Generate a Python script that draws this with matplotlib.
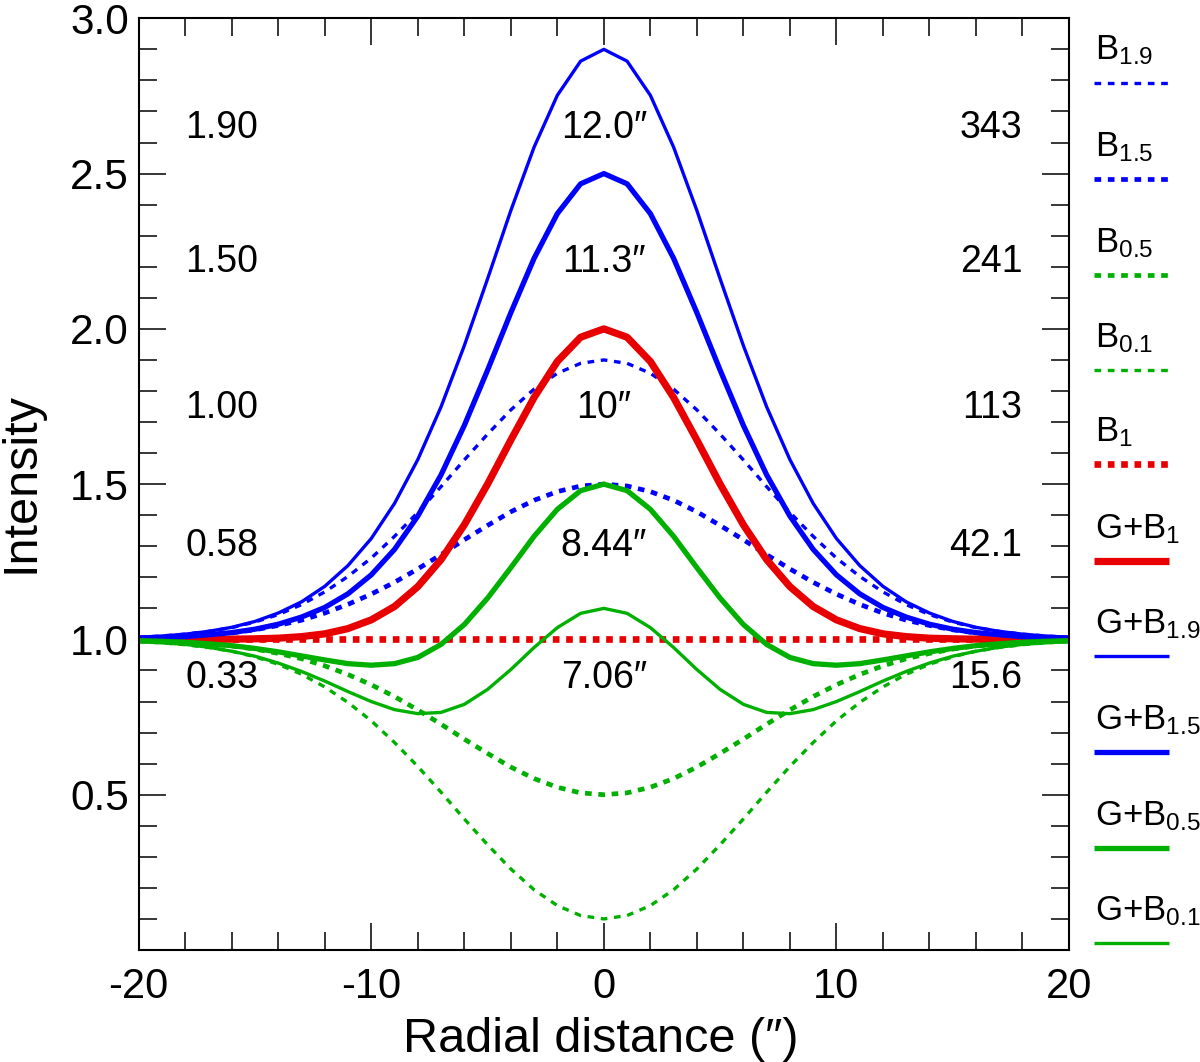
import matplotlib
matplotlib.use("Agg")
import matplotlib.pyplot as plt
from matplotlib.ticker import MultipleLocator, FixedLocator

plt.rcParams['font.family'] = ['Liberation Sans', 'DejaVu Sans']
plt.rcParams['mathtext.fontset'] = 'custom'
plt.rcParams['mathtext.rm'] = 'Liberation Sans'
plt.rcParams['mathtext.default'] = 'regular'
plt.rcParams['axes.unicode_minus'] = False
plt.rcParams['lines.scale_dashes'] = False

# ---------------- data ----------------
x = list(range(-20, 21))

B19 = [1.007, 1.011, 1.017, 1.026, 1.038, 1.056, 1.080, 1.112, 1.153, 1.203, 1.262, 1.332, 1.409, 1.492,
       1.578, 1.661, 1.739, 1.806, 1.857, 1.889, 1.900, 1.889, 1.857, 1.806, 1.739, 1.661, 1.578, 1.492,
       1.409, 1.332, 1.262, 1.203, 1.153, 1.112, 1.080, 1.056, 1.038, 1.026, 1.017, 1.011, 1.007]
B15 = [1.004, 1.006, 1.009, 1.014, 1.021, 1.031, 1.045, 1.062, 1.085, 1.113, 1.146, 1.184, 1.227, 1.273,
       1.321, 1.367, 1.411, 1.448, 1.476, 1.494, 1.500, 1.494, 1.476, 1.448, 1.411, 1.367, 1.321, 1.273,
       1.227, 1.184, 1.146, 1.113, 1.085, 1.062, 1.045, 1.031, 1.021, 1.014, 1.009, 1.006, 1.004]
B05 = [0.996, 0.994, 0.991, 0.986, 0.979, 0.969, 0.955, 0.938, 0.915, 0.887, 0.854, 0.816, 0.773, 0.727,
       0.679, 0.633, 0.589, 0.552, 0.524, 0.506, 0.500, 0.506, 0.524, 0.552, 0.589, 0.633, 0.679, 0.727,
       0.773, 0.816, 0.854, 0.887, 0.915, 0.938, 0.955, 0.969, 0.979, 0.986, 0.991, 0.994, 0.996]
B01 = [0.993, 0.989, 0.983, 0.974, 0.962, 0.944, 0.920, 0.888, 0.847, 0.797, 0.738, 0.668, 0.591, 0.508,
       0.422, 0.339, 0.261, 0.194, 0.143, 0.111, 0.100, 0.111, 0.143, 0.194, 0.261, 0.339, 0.422, 0.508,
       0.591, 0.668, 0.738, 0.797, 0.847, 0.888, 0.920, 0.944, 0.962, 0.974, 0.983, 0.989, 0.993]
B1 = [1.0] * 41
GB1 = [1.000, 1.000, 1.000, 1.000, 1.001, 1.002, 1.004, 1.009, 1.018, 1.035, 1.063, 1.106, 1.170, 1.257,
       1.369, 1.500, 1.642, 1.779, 1.895, 1.973, 2.000, 1.973, 1.895, 1.779, 1.642, 1.500, 1.369, 1.257,
       1.170, 1.106, 1.063, 1.035, 1.018, 1.009, 1.004, 1.002, 1.001, 1.000, 1.000, 1.000, 1.000]
GB19 = [1.007, 1.011, 1.017, 1.026, 1.039, 1.058, 1.085, 1.121, 1.171, 1.238, 1.325, 1.438, 1.579, 1.749,
        1.946, 2.161, 2.381, 2.585, 2.752, 2.862, 2.900, 2.862, 2.752, 2.585, 2.381, 2.161, 1.946, 1.749,
        1.579, 1.438, 1.325, 1.238, 1.171, 1.121, 1.085, 1.058, 1.039, 1.026, 1.017, 1.011, 1.007]
GB15 = [1.004, 1.006, 1.009, 1.015, 1.022, 1.033, 1.049, 1.072, 1.103, 1.147, 1.208, 1.290, 1.397, 1.530,
        1.689, 1.867, 2.052, 2.227, 2.371, 2.467, 2.500, 2.467, 2.371, 2.227, 2.052, 1.867, 1.689, 1.530,
        1.397, 1.290, 1.208, 1.147, 1.103, 1.072, 1.049, 1.033, 1.022, 1.015, 1.009, 1.006, 1.004]
GB05 = [0.996, 0.994, 0.991, 0.986, 0.980, 0.971, 0.960, 0.947, 0.934, 0.922, 0.917, 0.922, 0.942, 0.984,
        1.048, 1.133, 1.231, 1.332, 1.419, 1.479, 1.500, 1.479, 1.419, 1.332, 1.231, 1.133, 1.048, 0.984,
        0.942, 0.922, 0.917, 0.922, 0.934, 0.947, 0.960, 0.971, 0.980, 0.986, 0.991, 0.994, 0.996]
GB01 = [0.993, 0.989, 0.984, 0.975, 0.962, 0.946, 0.924, 0.897, 0.866, 0.832, 0.800, 0.774, 0.761, 0.765,
        0.791, 0.839, 0.903, 0.974, 1.038, 1.084, 1.100, 1.084, 1.038, 0.974, 0.903, 0.839, 0.791, 0.765,
        0.761, 0.774, 0.800, 0.832, 0.866, 0.897, 0.924, 0.946, 0.962, 0.975, 0.984, 0.989, 0.993]

labels = ['B$_{1.9}$', 'B$_{1.5}$', 'B$_{0.5}$', 'B$_{0.1}$', 'B$_{1}$',
          'G+B$_{1}$', 'G+B$_{1.9}$', 'G+B$_{1.5}$', 'G+B$_{0.5}$', 'G+B$_{0.1}$']
series = [B19, B15, B05, B01, B1, GB1, GB19, GB15, GB05, GB01]

# annotation columns
col_left = ['1.90', '1.50', '1.00', '0.58', '0.33']
col_mid = ['12.0\u2033', '11.3\u2033', '10\u2033', '8.44\u2033', '7.06\u2033']
col_right = ['343', '241', '113', '42.1', '15.6']
row_y = [2.647, 2.215, 1.745, 1.301, 0.876]

# ---------------- styles ----------------
BLUE = '#0000ff'
RED = '#e80000'
GREEN = '#00b000'
DASH = (0, (4.8, 4.8))
styles = [
    dict(color=BLUE, lw=2.4, ls=DASH),
    dict(color=BLUE, lw=3.4, ls=DASH),
    dict(color=GREEN, lw=3.4, ls=DASH),
    dict(color=GREEN, lw=2.4, ls=DASH),
    dict(color=RED, lw=4.8, ls=DASH),
    dict(color=RED, lw=5.2, ls='-'),
    dict(color=BLUE, lw=2.4, ls='-'),
    dict(color=BLUE, lw=3.8, ls='-'),
    dict(color=GREEN, lw=3.8, ls='-'),
    dict(color=GREEN, lw=2.4, ls='-'),
]

W, H = 1200, 1062
fig = plt.figure(figsize=(W / 100, H / 100), dpi=100)
ax = fig.add_axes([138.7 / W, 1 - 950 / H, (1069 - 138.7) / W, (950 - 18.3) / H])

for y, st in zip(series, styles):
    ax.plot(x, y, dash_capstyle='butt', solid_capstyle='butt', **st)

ax.set_xlim(-20, 20)
ax.set_ylim(0, 3.0)
ax.xaxis.set_major_locator(MultipleLocator(10))
ax.xaxis.set_minor_locator(MultipleLocator(2))
ax.yaxis.set_major_locator(FixedLocator([0.5, 1.0, 1.5, 2.0, 2.5, 3.0]))
ax.yaxis.set_minor_locator(MultipleLocator(0.1))
ax.yaxis.set_major_formatter(matplotlib.ticker.FormatStrFormatter('%.1f'))
ax.tick_params(which='both', direction='in', top=True, right=True, width=1.1, colors='black')
ax.tick_params(which='major', length=19.5)
ax.tick_params(which='minor', length=13)
ax.tick_params(axis='x', which='major', labelsize=30, pad=12)
ax.tick_params(axis='y', which='major', labelsize=30.5, pad=7)
for s in ax.spines.values():
    s.set_linewidth(1.5)

ax.set_xlabel('Radial distance (\u2033)', fontsize=35)
ax.set_ylabel('Intensity', fontsize=35)
ax.xaxis.set_label_coords(0.497, -0.072)
ax.yaxis.set_label_coords(-0.102, 0.502)

for lt, mt, rt, yy in zip(col_left, col_mid, col_right, row_y):
    ax.text(-18, yy, lt, ha='left', va='center', fontsize=27)
    ax.text(0, yy, mt, ha='center', va='center', fontsize=27)
    ax.text(18, yy, rt, ha='right', va='center', fontsize=27)

# ---------------- side legend ----------------
lax = fig.add_axes([0, 0, 1, 1])
lax.set_xlim(0, W)
lax.set_ylim(H, 0)
lax.axis('off')
lax.patch.set_visible(False)
line_pos = [82.7, 179, 275, 370, 464, 561, 656, 752, 848, 943]
for lab, st, lp in zip(labels, styles, line_pos):
    lax.text(1095, lp - 23, lab, ha='left', va='baseline', fontsize=25)
    lax.plot([1094, 1169], [lp, lp], dash_capstyle='butt', solid_capstyle='butt', **st)

fig.savefig('out.png', dpi=100)
